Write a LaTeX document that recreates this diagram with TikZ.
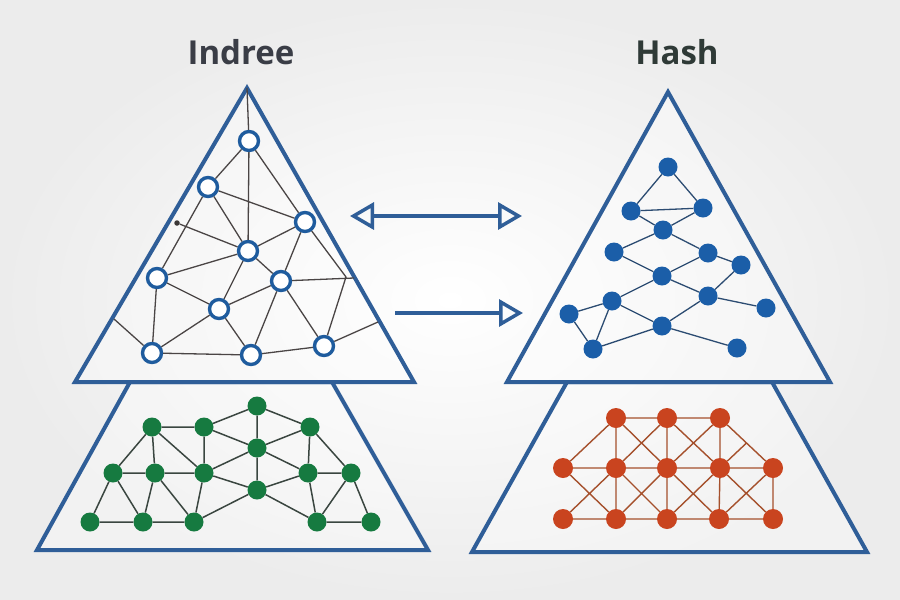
\documentclass[tikz,border=0pt]{standalone}
\usepackage{fontspec}
\setmainfont{Open Sans}
\usetikzlibrary{arrows.meta,calc}
\definecolor{frameblue}{HTML}{2F5E98}
\definecolor{ringblue}{HTML}{1F5C9E}
\definecolor{dotblue}{HTML}{1B5EA8}
\definecolor{dotgreen}{HTML}{167A40}
\definecolor{dotred}{HTML}{C9441F}
\definecolor{edgegray}{HTML}{4A4545}
\definecolor{edgeblue}{HTML}{2C4C72}
\definecolor{edgegreen}{HTML}{3A4640}
\definecolor{edgered}{HTML}{A5502C}
\definecolor{titlegray}{HTML}{3A3D46}
\definecolor{bgouter}{HTML}{ECECEC}
\tikzset{
  frameline/.style={draw=frameblue, line width=4pt, line join=miter},
  ring/.style={circle, draw=ringblue, line width=3.4pt, fill=white, minimum size=19pt, inner sep=0pt},
  bdot/.style={circle, fill=dotblue, minimum size=19pt, inner sep=0pt},
  gdot/.style={circle, fill=dotgreen, minimum size=19pt, inner sep=0pt},
  rdot/.style={circle, fill=dotred, minimum size=20pt, inner sep=0pt},
  ledge/.style={draw=edgegray, line width=1.3pt},
  bedge/.style={draw=edgeblue, line width=1.3pt},
  gedge/.style={draw=edgegreen, line width=1.5pt},
  redge/.style={draw=edgered, line width=1.4pt},
  titletext/.style={font=\fontsize{33}{38}\selectfont\bfseries, text=titlegray, inner sep=0pt},
  arrowline/.style={draw=frameblue, line width=3.5pt},
  opentip/.tip={Triangle[open, length=24pt, width=27pt]}
}
\begin{document}
\begin{tikzpicture}[x=1pt,y=-1pt]
\useasboundingbox (0,0) rectangle (900,600);
\shade[inner color=white, outer color=bgouter] (0,0) rectangle (900,600);

% titles
\node[titletext] (t1) at (241,52) {Indree};
\node[titletext, text={rgb,255:red,47;green,58;blue,55}] (t2) at (677,52) {Hash};

% frames
\draw[frameline, fill=white, fill opacity=0.35] (130,382) -- (332,382) -- (428,550) -- (37,550) -- cycle;
\draw[frameline, fill=white, fill opacity=0.35] (567,382) -- (772,382) -- (867,552) -- (472,552) -- cycle;
\coordinate (LA) at (247,88);
\draw[frameline, fill=white, fill opacity=0.35] (LA) -- (414,382) -- (75,382) -- cycle;
\draw[frameline, fill=white, fill opacity=0.35] (668,92) -- (830,382) -- (507,382) -- cycle;

% arrows
\coordinate (a1s) at (350,216);
\coordinate (a1e) at (522,216);
\coordinate (a2s) at (395,313);
\coordinate (a2e) at (523,313);
\draw[arrowline, opentip-opentip] (a1s) -- (a1e);
\draw[arrowline, -opentip] (a2s) -- (a2e);

% left triangle graph
\node[ring] (A) at (249,141) {};
\node[ring] (B) at (208,187) {};
\node[ring] (C) at (305,222) {};
\node[ring] (D) at (248,251) {};
\node[ring] (E) at (157,278) {};
\node[ring] (F) at (281,281) {};
\node[ring] (G) at (219,309) {};
\node[ring] (H) at (152,353) {};
\node[ring] (I) at (251,355) {};
\node[ring] (J) at (324,346) {};
\node[circle, fill=edgegray!80!black, minimum size=5.5pt, inner sep=0pt] (dt) at (177,223) {};
\coordinate (P) at (346,277);
\coordinate (FR) at (354,278);
\coordinate (HL) at (114,319);
\coordinate (JR) at (378,322);
\path[ledge] (LA) -- (A) (A) -- (D) (A) -- (B) (A) -- (C) (B) -- (C) (B) -- (E) (B) -- (D)
  (C) -- (D) (C) -- (F) (C) -- (P) (P) -- (J) (F) -- (FR) (dt) -- (D) (D) -- (E) (D) -- (G)
  (D) -- (F) (E) -- (G) (E) -- (H) (G) -- (F) (G) -- (H) (G) -- (I) (F) -- (I) (F) -- (J)
  (H) -- (I) (I) -- (J) (H) -- (HL) (J) -- (JR);

% left trapezoid graph (green)
\node[gdot] (g1) at (152,427) {};
\node[gdot] (g2) at (204,427) {};
\node[gdot] (g3) at (257,406) {};
\node[gdot] (g4) at (310,427) {};
\node[gdot] (g5) at (257,448) {};
\node[gdot] (g6) at (113,473) {};
\node[gdot] (g7) at (155,473) {};
\node[gdot] (g8) at (204,473) {};
\node[gdot] (g9) at (308,473) {};
\node[gdot] (g10) at (351,473) {};
\node[gdot] (g11) at (257,490) {};
\node[gdot] (g12) at (90,522) {};
\node[gdot] (g13) at (143,522) {};
\node[gdot] (g14) at (194,522) {};
\node[gdot] (g15) at (317,522) {};
\node[gdot] (g16) at (371,522) {};
\path[gedge] (g1) -- (g2) (g2) -- (g3) (g3) -- (g4) (g3) -- (g5) (g2) -- (g5) (g4) -- (g5)
  (g1) -- (g6) (g1) -- (g7) (g1) -- (g8) (g2) -- (g8) (g5) -- (g8) (g5) -- (g11) (g5) -- (g9)
  (g4) -- (g9) (g4) -- (g10) (g6) -- (g7) (g7) -- (g8) (g8) -- (g11) (g11) -- (g9) (g9) -- (g10)
  (g6) -- (g12) (g6) -- (g13) (g7) -- (g13) (g7) -- (g14) (g8) -- (g14) (g12) -- (g13)
  (g13) -- (g14) (g14) -- (g11) (g11) -- (g15) (g9) -- (g15) (g10) -- (g15) (g10) -- (g16)
  (g15) -- (g16);

% right triangle graph (blue)
\node[bdot] (b1) at (668,167) {};
\node[bdot] (b2) at (631,211) {};
\node[bdot] (b3) at (703,208) {};
\node[bdot] (b4) at (663,230) {};
\node[bdot] (b5) at (614,252) {};
\node[bdot] (b6) at (708,253) {};
\node[bdot] (b7) at (741,265) {};
\node[bdot] (b8) at (662,276) {};
\node[bdot] (b9) at (612,301) {};
\node[bdot] (b10) at (708,296) {};
\node[bdot] (b11) at (569,314) {};
\node[bdot] (b12) at (766,308) {};
\node[bdot] (b13) at (662,326) {};
\node[bdot] (b14) at (593,349) {};
\node[bdot] (b15) at (737,348) {};
\path[bedge] (b1) -- (b2) (b1) -- (b3) (b2) -- (b3) (b2) -- (b4) (b3) -- (b4) (b4) -- (b5)
  (b4) -- (b6) (b5) -- (b8) (b6) -- (b8) (b6) -- (b7) (b7) -- (b10) (b8) -- (b9) (b8) -- (b10)
  (b9) -- (b11) (b9) -- (b14) (b9) -- (b13) (b10) -- (b13) (b10) -- (b12) (b11) -- (b14)
  (b14) -- (b13) (b13) -- (b15);

% right trapezoid graph (red)
\node[rdot] (r11) at (616,418) {};
\node[rdot] (r12) at (667,418) {};
\node[rdot] (r13) at (720,418) {};
\node[rdot] (r21) at (563,468) {};
\node[rdot] (r22) at (616,468) {};
\node[rdot] (r23) at (667,468) {};
\node[rdot] (r24) at (720,468) {};
\node[rdot] (r25) at (773,468) {};
\node[rdot] (r31) at (563,519) {};
\node[rdot] (r32) at (616,519) {};
\node[rdot] (r33) at (667,519) {};
\node[rdot] (r34) at (719,519) {};
\node[rdot] (r35) at (773,519) {};
\coordinate (rm) at ($(r13)!0.5!(r25)$);
\path[redge] (r11) -- (r12) (r12) -- (r13)
  (r21) -- (r22) (r22) -- (r23) (r23) -- (r24) (r24) -- (r25)
  (r31) -- (r32) (r32) -- (r33) (r33) -- (r34) (r34) -- (r35)
  (r11) -- (r22) (r12) -- (r23) (r13) -- (r24)
  (r22) -- (r32) (r23) -- (r33) (r24) -- (r34) (r25) -- (r35)
  (r11) -- (r21) (r11) -- (r23) (r12) -- (r22) (r12) -- (r24) (r13) -- (r23) (r13) -- (r25)
  (r24) -- (rm)
  (r21) -- (r32) (r22) -- (r31) (r22) -- (r33) (r23) -- (r32) (r23) -- (r34) (r24) -- (r33)
  (r24) -- (r35) (r25) -- (r34);
\end{tikzpicture}
\end{document}
